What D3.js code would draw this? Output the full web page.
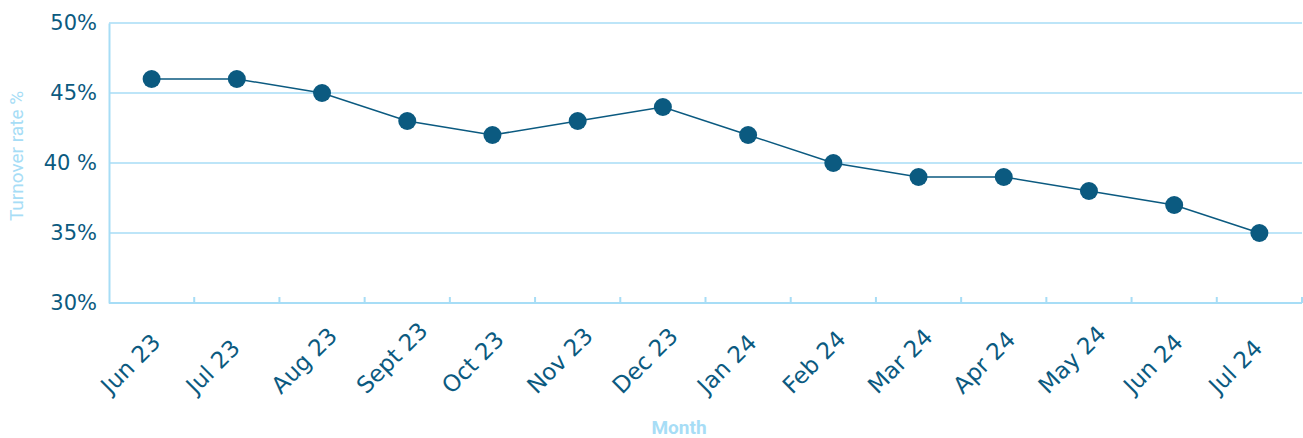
<html>
  <head>
    <script src="https://cdnjs.cloudflare.com/ajax/libs/d3/7.8.5/d3.min.js"></script>
  </head>
  <body style="margin:0;background:#fff;">
    <svg id="chart"></svg>
    <style>
      .axis text { fill: #0b5a80; font-family: 'DejaVu Sans', sans-serif; font-size: 21px; }
      .axis .xlabel { font-size: 23px; }
      .axis-title { fill: #a7ddf6; font-family: 'Liberation Sans Narrow', 'Roboto', sans-serif; font-size: 19px; }
    </style>
    <script>
      // Data
      const months = ['Jun 23', 'Jul 23', 'Aug 23', 'Sept 23', 'Oct 23', 'Nov 23', 'Dec 23',
                      'Jan 24', 'Feb 24', 'Mar 24', 'Apr 24', 'May 24', 'Jun 24', 'Jul 24'];
      const turnover = [46, 46, 45, 43, 42, 43, 44, 42, 40, 39, 39, 38, 37, 35];
      const yTicks = [30, 35, 40, 45, 50];
      const yTickLabels = ['30%', '35%', '40 %', '45%', '50%'];

      const W = 1303, H = 438;
      const margin = {top: 23, right: 1, bottom: 135, left: 109};
      const width = W - margin.left - margin.right;
      const height = H - margin.top - margin.bottom;
      const dark = '#0b5a80', light = '#a7ddf6';

      const svg = d3.select('#chart').attr('width', W).attr('height', H);
      const g = svg.append('g').attr('transform', 'translate(' + margin.left + ',' + margin.top + ')');

      const x = d3.scaleBand().domain(months).range([0, width]);
      const y = d3.scaleLinear().domain([30, 50]).range([height, 0]);

      // Gridlines
      g.append('g').selectAll('line')
        .data(yTicks.filter(d => d > 30))
        .enter().append('line')
        .attr('x1', 0).attr('x2', width)
        .attr('y1', d => y(d)).attr('y2', d => y(d))
        .style('stroke', light).style('stroke-width', 1.3);

      // Y axis
      const yAxis = g.append('g').attr('class', 'axis')
        .call(d3.axisLeft(y).tickValues(yTicks).tickSize(0).tickPadding(12)
          .tickFormat((d, i) => yTickLabels[i]));
      yAxis.select('.domain').style('stroke', light).style('stroke-width', 2);

      // X axis: ticks at band boundaries, pointing up
      const xa = g.append('g').attr('class', 'axis').attr('transform', 'translate(0,' + height + ')');
      xa.append('line').attr('x1', 0).attr('x2', width).style('stroke', light).style('stroke-width', 2);
      xa.selectAll('.tick-mark')
        .data(months)
        .enter().append('line')
        .attr('x1', d => x(d) + x.bandwidth()).attr('x2', d => x(d) + x.bandwidth())
        .attr('y1', 0).attr('y2', -6)
        .style('stroke', light).style('stroke-width', 2);
      xa.selectAll('text')
        .data(months)
        .enter().append('text')
        .attr('class', 'xlabel')
        .attr('text-anchor', 'start')
        .attr('transform', d => 'translate(' + (x(d) + x.bandwidth() / 2 - 41) + ',92) rotate(-45)')
        .text(d => d);

      // Line
      const line = d3.line()
        .x((d, i) => x(months[i]) + x.bandwidth() / 2)
        .y(d => y(d));
      g.append('path').datum(turnover)
        .attr('d', line)
        .style('fill', 'none').style('stroke', dark).style('stroke-width', 1.5);

      g.selectAll('circle')
        .data(turnover)
        .enter().append('circle')
        .attr('cx', (d, i) => x(months[i]) + x.bandwidth() / 2)
        .attr('cy', d => y(d))
        .attr('r', 9)
        .style('fill', dark);

      // Axis titles
      svg.append('text').attr('class', 'axis-title')
        .attr('text-anchor', 'middle')
        .attr('transform', 'translate(23,' + (margin.top + 133) + ') rotate(-90)')
        .text('Turnover rate %');
      svg.append('text').attr('class', 'axis-title')
        .attr('text-anchor', 'middle')
        .attr('x', 679).attr('y', 434)
        .style('font-weight', 'bold')
        .text('Month');
    </script>
  </body>
</html>
